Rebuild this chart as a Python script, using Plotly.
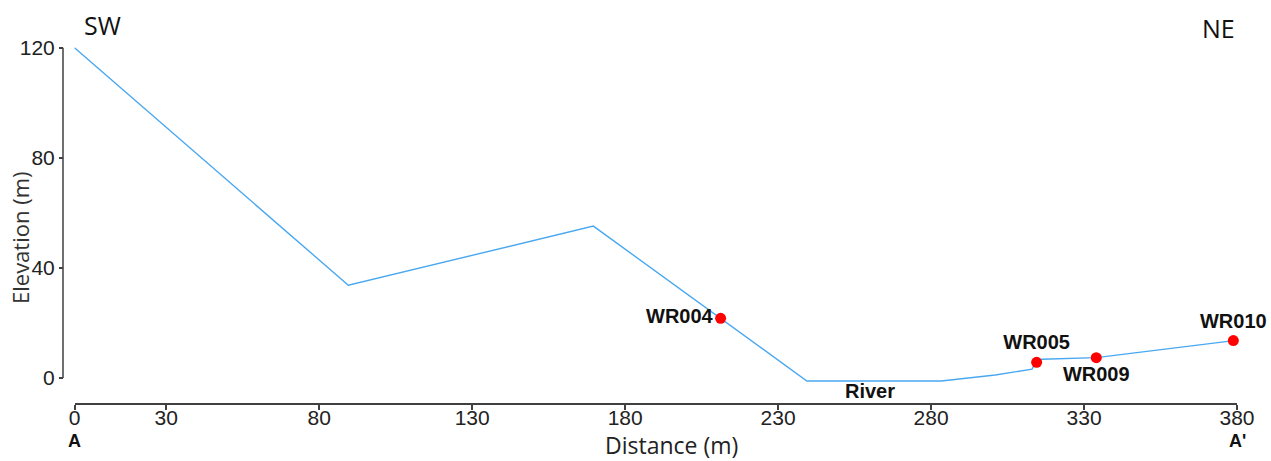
import plotly.graph_objects as go

# Profile A-A' (distance in m, elevation in m)
profile_dist = [0, 89.5, 169.6, 239.4, 283.3, 301.0, 313.0, 313.8, 316.2, 334.0, 379.0]
profile_elev = [120, 33.7, 55.2, -1.1, -1.1, 1.1, 3.2, 4.8, 6.8, 7.4, 13.6]

# Wells
well_names = ["WR004", "WR005", "WR009", "WR010"]
well_dist = [211.2, 314.5, 334.0, 378.8]
well_elev = [21.7, 5.7, 7.4, 13.6]

xtick_vals = [0, 30, 80, 130, 180, 230, 280, 330, 380]
ytick_vals = [0, 40, 80, 120]

label_pos = ["middle left", "top center", "bottom center", "top center"]

AX = "#404040"
LINE = "#4aa8f0"
W, H = 1271, 461
ML, MR, MT, MB = 63, 34, 45, 57
pw = W - ML - MR
ph = H - MT - MB

fig = go.Figure()
fig.add_trace(go.Scatter(
    x=profile_dist, y=profile_elev, mode="lines",
    line=dict(color=LINE, width=1.4), hoverinfo="skip", showlegend=False))
fig.add_trace(go.Scatter(
    x=well_dist, y=well_elev, mode="markers+text",
    text=well_names, textposition=label_pos,
    textfont=dict(family="Liberation Sans, Arial", size=20, color="#111", weight="bold"),
    marker=dict(color="#ff0000", size=11),
    cliponaxis=False, showlegend=False))

fig.update_layout(
    width=W, height=H,
    margin=dict(l=ML, r=MR, t=MT, b=MB, autoexpand=False),
    plot_bgcolor="white", paper_bgcolor="white",
    xaxis=dict(
        domain=[11.5 / pw, 1], range=[0, 380], anchor="free", position=0,
        automargin=False,
        showline=True, linecolor=AX, linewidth=1.5,
        ticks="outside", ticklen=5, tickwidth=1.5, tickcolor=AX,
        ticklabelstandoff=-10,
        tickvals=xtick_vals, showgrid=False, zeroline=False,
        tickfont=dict(family="Liberation Sans, Arial", size=21, color="#222"),
    ),
    yaxis=dict(
        domain=[(404 - 386.25) / ph, 1], range=[-3, 121], anchor="free", position=0,
        automargin=False,
        showline=False, ticks="outside", ticklen=4, tickwidth=1.5, tickcolor=AX,
        tickvals=ytick_vals, showgrid=False, zeroline=False,
        tickfont=dict(family="Liberation Sans, Arial", size=21, color="#222"),
    ),
    shapes=[dict(type="line", xref="paper", yref="y", x0=0, x1=0,
                 y0=ytick_vals[0], y1=ytick_vals[-1],
                 line=dict(color=AX, width=1.5))],
    annotations=[
        dict(text="Distance (m)", xref="paper", yref="paper", x=(671 - ML) / pw,
             y=(404 - 445) / ph, xanchor="center", yanchor="middle", showarrow=False,
             font=dict(family="Open Sans", size=23, color="#222")),
        dict(text="Elevation (m)", xref="paper", yref="paper", x=(20 - ML) / pw,
             y=(404 - 238) / ph, textangle=-90, showarrow=False,
             xanchor="center", yanchor="middle",
             font=dict(family="Open Sans", size=22, color="#333")),
        dict(text="SW", xref="x", yref="paper", x=9, y=(404 - 25) / ph,
             xanchor="center", yanchor="middle",
             showarrow=False, font=dict(family="Open Sans", size=25, color="#111")),
        dict(text="NE", xref="x", yref="paper", x=373.8, y=(404 - 28) / ph,
             xanchor="center", yanchor="middle",
             showarrow=False, font=dict(family="Open Sans", size=25, color="#111")),
        dict(text="<b>A</b>", xref="x", yref="paper", x=xtick_vals[0], y=(404 - 441) / ph,
             xanchor="center", yanchor="middle",
             showarrow=False, font=dict(family="Liberation Sans, Arial", size=18, color="#111")),
        dict(text="<b>A'</b>", xref="x", yref="paper", x=xtick_vals[-1], y=(404 - 441) / ph,
             xanchor="center", yanchor="middle",
             showarrow=False, font=dict(family="Liberation Sans, Arial", size=18, color="#111")),
        dict(text="<b>River</b>", xref="x", yref="y", x=260, y=profile_elev[3],
             yshift=-10, showarrow=False,
             font=dict(family="Liberation Sans, Arial", size=20, color="#111")),
    ],
)

fig.write_html("out.html")
